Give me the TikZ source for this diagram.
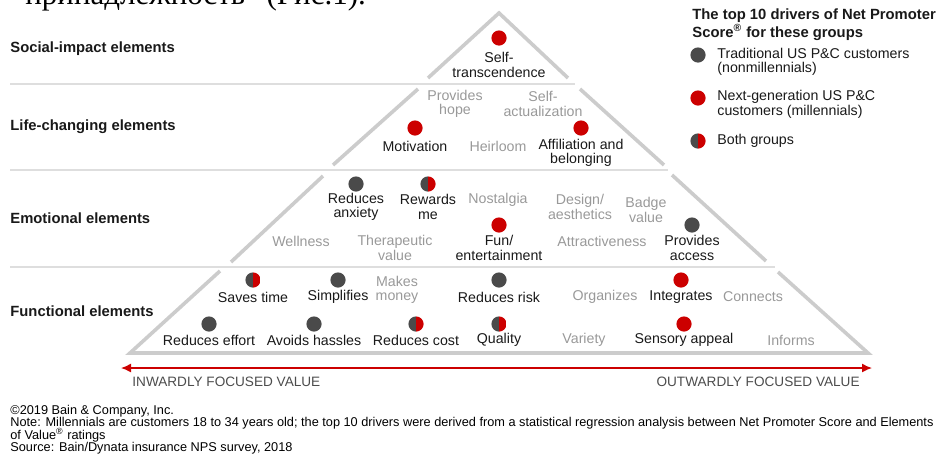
\documentclass[tikz,border=0pt]{standalone}
\usepackage{fontspec}
\setmainfont{Liberation Sans}
\newfontfamily\rufont{Liberation Serif}
\usetikzlibrary{arrows.meta}
\definecolor{mred}{rgb}{0.8, 0, 0}
\definecolor{mgray}{rgb}{0.29, 0.29, 0.29}
\definecolor{ltext}{rgb}{0.6, 0.6, 0.6}
\definecolor{dtext}{rgb}{0.1, 0.1, 0.1}
\definecolor{edge}{rgb}{0.8, 0.8, 0.8}
\definecolor{rule}{rgb}{0.87, 0.87, 0.87}
\tikzset{lbl/.style  = {text=dtext, align=center, inner sep=0pt,
                        font=\fontsize{7.1}{7.3}\selectfont},
         dim/.style  = {lbl, text=ltext},
         head/.style = {anchor=west, inner sep=0pt, text=dtext,
                        font=\fontsize{7.4}{7.6}\selectfont\bfseries},
         gdot/.style = {circle, fill=mgray, minimum size=7.6pt, inner sep=0pt},
         rdot/.style = {gdot, fill=mred},
         bdot/.style = {circle, minimum size=7.6pt, inner sep=0pt,
                        path picture={\fill[mgray] (path picture bounding box.south west)
                                        rectangle (path picture bounding box.north);
                                      \fill[mred] (path picture bounding box.south)
                                        rectangle (path picture bounding box.north east);}},
         side/.style = {edge, line width=1.8pt},
         sep/.style  = {rule, line width=0.6pt},
         note/.style = {anchor=west, inner sep=0pt, text=black,
                        font=\fontsize{6.37}{6.6}\selectfont}}

\begin{document}
\begin{tikzpicture}[x=0.5pt, y=-0.5pt]
    \useasboundingbox (0, 0) rectangle (936, 456);
    \begin{scope}
      \clip (0, 0) rectangle (936, 456);
      \node [anchor=base west, inner sep=0pt, font=\rufont\fontsize{15.5}{16}\selectfont] (ruline) at (25, 4) {принадлежность” (Рис.1).};
    \end{scope}

    % pyramid
    \draw [side] (428, 78) -- (499, 13) -- (568, 78);
    \draw [side] (418, 89) -- (333, 165);
    \draw [side] (580, 89) -- (664, 165);
    \draw [side] (323, 176) -- (231, 262);
    \draw [side] (672, 175) -- (766, 261);
    \draw [side] (220, 271) -- (130, 353) -- (868, 353) -- (778, 272);

    \draw [sep] (10, 84) -- (575, 84);
    \draw [sep] (10, 170) -- (668, 170);
    \draw [sep] (10, 267) -- (775, 267);

    \node [head] (social) at (10, 49) {Social-impact elements};
    \node [head] (life) at (10, 127) {Life-changing elements};
    \node [head] (emotional) at (10, 218) {Emotional elements};
    \node [head] (functional) at (10, 311) {Functional elements};

    % social impact
    \node [rdot] (d-transc) at (499, 38) {};
    \node [lbl] (transc) at (499, 65) {Self-\\transcendence};

    % life changing
    \node [dim] (hope) at (455, 104) {Provides\\hope};
    \node [dim] (actual) at (543, 104) {Self-\\actualization};
    \node [rdot] (d-motiv) at (415, 128) {};
    \node [lbl] (motiv) at (415, 146) {Motivation};
    \node [dim] (heirloom) at (498, 146) {Heirloom};
    \node [rdot] (d-affil) at (581, 128) {};
    \node [lbl] (affil) at (581, 153) {Affiliation and\\belonging};

    % emotional
    \node [gdot] (d-anxiety) at (356, 184) {};
    \node [lbl] (anxiety) at (356, 207) {Reduces\\anxiety};
    \node [bdot] (d-rewards) at (428, 184) {};
    \node [lbl] (rewards) at (428, 207) {Rewards\\me};
    \node [dim] (nostalgia) at (498, 200) {Nostalgia};
    \node [dim] (design) at (580, 207) {Design/\\aesthetics};
    \node [dim] (badge) at (646, 210) {Badge\\value};
    \node [dim] (wellness) at (301, 241) {Wellness};
    \node [dim] (therapy) at (395, 248) {Therapeutic\\value};
    \node [rdot] (d-fun) at (499, 225) {};
    \node [lbl] (fun) at (499, 248) {Fun/\\entertainment};
    \node [dim] (attract) at (602, 241) {Attractiveness};
    \node [gdot] (d-access) at (692, 225) {};
    \node [lbl] (access) at (692, 248) {Provides\\access};

    % functional
    \node [bdot] (d-time) at (253, 280) {};
    \node [lbl] (time) at (253, 297) {Saves time};
    \node [gdot] (d-simpl) at (338, 280) {};
    \node [lbl] (simpl) at (338, 297) {Simplifies};
    \node [dim] (money) at (397, 290) {Makes\\money};
    \node [gdot] (d-risk) at (499, 280) {};
    \node [lbl] (risk) at (499, 297) {Reduces risk};
    \node [dim] (organ) at (605, 297) {Organizes};
    \node [rdot] (d-integr) at (681, 280) {};
    \node [lbl] (integr) at (681, 297) {Integrates};
    \node [dim] (connects) at (753, 297) {Connects};

    \node [gdot] (d-effort) at (209, 324) {};
    \node [lbl] (effort) at (209, 340) {Reduces effort};
    \node [gdot] (d-hassle) at (314, 324) {};
    \node [lbl] (hassle) at (314, 340) {Avoids hassles};
    \node [bdot] (d-cost) at (416, 324) {};
    \node [lbl] (cost) at (416, 340) {Reduces cost};
    \node [bdot] (d-quality) at (499, 324) {};
    \node [lbl] (quality) at (499, 340) {Quality};
    \node [dim] (variety) at (584, 340) {Variety};
    \node [rdot] (d-sensory) at (684, 324) {};
    \node [lbl] (sensory) at (684, 340) {Sensory appeal};
    \node [dim] (informs) at (791, 340) {Informs};

    % value axis
    \coordinate (inward) at (121, 368);
    \coordinate (outward) at (872, 368);
    \draw [mred, line width=0.7pt, {Latex[length=5pt, width=4.5pt]}-{Latex[length=5pt, width=4.5pt]}] (inward) -- (outward);
    \node [anchor=west, inner sep=0pt, text=black!70, font=\fontsize{6.8}{7}\selectfont] (in-lbl) at (132, 382) {INWARDLY FOCUSED VALUE};
    \node [anchor=east, inner sep=0pt, text=black!70, font=\fontsize{6.8}{7}\selectfont] (out-lbl) at (860, 382) {OUTWARDLY FOCUSED VALUE};

    % legend
    \node [head, align=left] (legend) at (692, 24.5) {The top 10 drivers of Net Promoter\\Score\textsuperscript{®} for these groups};
    \node [gdot] (l-trad) at (698, 55) {};
    \node [lbl, anchor=west, align=left] (trad) at (717, 62) {Traditional US P\&C customers\\(nonmillennials)};
    \node [rdot] (l-next) at (698, 98) {};
    \node [lbl, anchor=west, align=left] (next) at (717, 104.5) {Next-generation US P\&C\\customers (millennials)};
    \node [bdot] (l-both) at (698, 141) {};
    \node [lbl, anchor=west] (both) at (717, 141) {Both groups};

    % notes
    \node [note] (copy) at (10, 411) {©2019 Bain \& Company, Inc.};
    \node [note] (note1) at (10, 423) {Note: Millennials are customers 18 to 34 years old; the top 10 drivers were derived from a statistical regression analysis between Net Promoter Score and Elements};
    \node [note] (note2) at (10, 435) {of Value\textsuperscript{®} ratings};
    \node [note] (source) at (10, 448) {Source: Bain/Dynata insurance NPS survey, 2018};
  \end{tikzpicture}
\end{document}
